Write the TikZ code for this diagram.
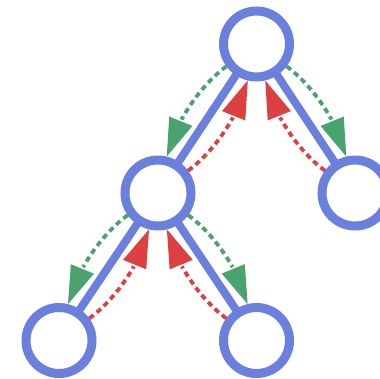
\documentclass[tikz,border=0pt]{standalone}
\usetikzlibrary{arrows.meta,bending}
\definecolor{nodeblue}{RGB}{106,128,220}
\definecolor{arrgreen}{RGB}{74,162,110}
\definecolor{arrred}{RGB}{220,64,64}
\begin{document}
\begin{tikzpicture}[x=1pt,y=1pt,
  treenode/.style={circle,draw=nodeblue,line width=9pt,minimum size=66pt,inner sep=0pt,fill=white},
  treeedge/.style={draw=nodeblue,line width=8pt},
  dasharrow/.style={line width=3.8pt,dash pattern=on 5.5pt off 4pt,looseness=0.8,
    -{Triangle[length=38pt,width=25pt,flex,line width=0pt]}},
  downarrow/.style={dasharrow,draw=arrgreen},
  uparrow/.style={dasharrow,draw=arrred}]
\useasboundingbox (0,0) rectangle (380,378);
\clip (0,0) rectangle (380,378);
\coordinate (pA) at (256.5,334);
\coordinate (pB) at (158,185);
\coordinate (pC) at (355,185);
\coordinate (pD) at (59,37.5);
\coordinate (pE) at (256.5,37.5);
\draw[treeedge] (pA) -- (pB);
\draw[treeedge] (pA) -- (pC);
\draw[treeedge] (pB) -- (pD);
\draw[treeedge] (pB) -- (pE);
\node[treenode] (A) at (pA) {};
\node[treenode] (B) at (pB) {};
\node[treenode] (C) at (pC) {};
\node[treenode] (D) at (pD) {};
\node[treenode] (E) at (pE) {};
\draw[downarrow] (A) to[bend right=20] (B);
\draw[downarrow] (A) to[bend left=20] (C);
\draw[downarrow] (B) to[bend right=20] (D);
\draw[downarrow] (B) to[bend left=20] (E);
\draw[uparrow] (B) to[bend right=20] (A);
\draw[uparrow] (C) to[bend left=20] (A);
\draw[uparrow] (D) to[bend right=20] (B);
\draw[uparrow] (E) to[bend left=20] (B);
\end{tikzpicture}
\end{document}
